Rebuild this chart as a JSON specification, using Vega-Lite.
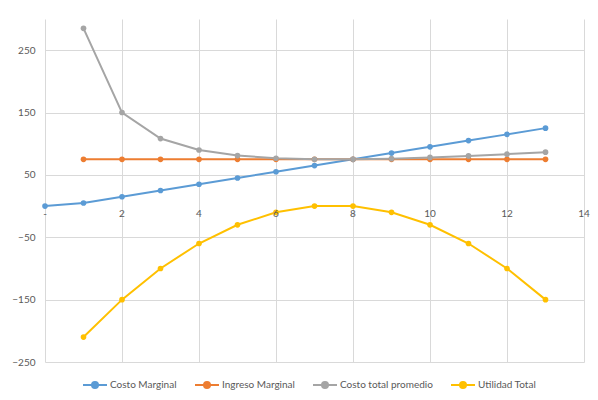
{
  "$schema": "https://vega.github.io/schema/vega-lite/v6.json",
  "width": 539,
  "height": 343,
  "autosize": "none",
  "padding": {"left": 45, "top": 19, "right": 14, "bottom": 38},
  "background": "white",
  "config": {
    "view": {"stroke": null},
    "font": "Lato"
  },
  "datasets": {
    "series": [
      {"x": 0, "serie": "Costo Marginal", "valor": 0},
      {"x": 1, "serie": "Costo Marginal", "valor": 5},
      {"x": 2, "serie": "Costo Marginal", "valor": 15},
      {"x": 3, "serie": "Costo Marginal", "valor": 25},
      {"x": 4, "serie": "Costo Marginal", "valor": 35},
      {"x": 5, "serie": "Costo Marginal", "valor": 45},
      {"x": 6, "serie": "Costo Marginal", "valor": 55},
      {"x": 7, "serie": "Costo Marginal", "valor": 65},
      {"x": 8, "serie": "Costo Marginal", "valor": 75},
      {"x": 9, "serie": "Costo Marginal", "valor": 85},
      {"x": 10, "serie": "Costo Marginal", "valor": 95},
      {"x": 11, "serie": "Costo Marginal", "valor": 105},
      {"x": 12, "serie": "Costo Marginal", "valor": 115},
      {"x": 13, "serie": "Costo Marginal", "valor": 125},
      {"x": 1, "serie": "Ingreso Marginal", "valor": 75},
      {"x": 2, "serie": "Ingreso Marginal", "valor": 75},
      {"x": 3, "serie": "Ingreso Marginal", "valor": 75},
      {"x": 4, "serie": "Ingreso Marginal", "valor": 75},
      {"x": 5, "serie": "Ingreso Marginal", "valor": 75},
      {"x": 6, "serie": "Ingreso Marginal", "valor": 75},
      {"x": 7, "serie": "Ingreso Marginal", "valor": 75},
      {"x": 8, "serie": "Ingreso Marginal", "valor": 75},
      {"x": 9, "serie": "Ingreso Marginal", "valor": 75},
      {"x": 10, "serie": "Ingreso Marginal", "valor": 75},
      {"x": 11, "serie": "Ingreso Marginal", "valor": 75},
      {"x": 12, "serie": "Ingreso Marginal", "valor": 75},
      {"x": 13, "serie": "Ingreso Marginal", "valor": 75},
      {"x": 1, "serie": "Costo total promedio", "valor": 285},
      {"x": 2, "serie": "Costo total promedio", "valor": 150},
      {"x": 3, "serie": "Costo total promedio", "valor": 108.3},
      {"x": 4, "serie": "Costo total promedio", "valor": 90},
      {"x": 5, "serie": "Costo total promedio", "valor": 81},
      {"x": 6, "serie": "Costo total promedio", "valor": 76.7},
      {"x": 7, "serie": "Costo total promedio", "valor": 75},
      {"x": 8, "serie": "Costo total promedio", "valor": 75},
      {"x": 9, "serie": "Costo total promedio", "valor": 76.1},
      {"x": 10, "serie": "Costo total promedio", "valor": 78},
      {"x": 11, "serie": "Costo total promedio", "valor": 80.5},
      {"x": 12, "serie": "Costo total promedio", "valor": 83.3},
      {"x": 13, "serie": "Costo total promedio", "valor": 86.5},
      {"x": 1, "serie": "Utilidad Total", "valor": -210},
      {"x": 2, "serie": "Utilidad Total", "valor": -150},
      {"x": 3, "serie": "Utilidad Total", "valor": -100},
      {"x": 4, "serie": "Utilidad Total", "valor": -60},
      {"x": 5, "serie": "Utilidad Total", "valor": -30},
      {"x": 6, "serie": "Utilidad Total", "valor": -10},
      {"x": 7, "serie": "Utilidad Total", "valor": 0},
      {"x": 8, "serie": "Utilidad Total", "valor": 0},
      {"x": 9, "serie": "Utilidad Total", "valor": -10},
      {"x": 10, "serie": "Utilidad Total", "valor": -30},
      {"x": 11, "serie": "Utilidad Total", "valor": -60},
      {"x": 12, "serie": "Utilidad Total", "valor": -100},
      {"x": 13, "serie": "Utilidad Total", "valor": -150}
    ],
    "etiquetasX": [
      {"x": 0, "etiqueta": "-"},
      {"x": 2, "etiqueta": "2"},
      {"x": 4, "etiqueta": "4"},
      {"x": 6, "etiqueta": "6"},
      {"x": 8, "etiqueta": "8"},
      {"x": 10, "etiqueta": "10"},
      {"x": 12, "etiqueta": "12"},
      {"x": 14, "etiqueta": "14"}
    ]
  },
  "layer": [
    {
      "mark": {"type": "rect", "fill": null, "stroke": "#d9d9d9", "strokeWidth": 1},
      "encoding": {
        "x": {"datum": -1.01, "type": "quantitative", "scale": {"domain": [0, 14], "nice": false}},
        "x2": {"datum": 14.21},
        "y": {"datum": 320.8, "type": "quantitative", "scale": {"domain": [-250, 300], "nice": false}},
        "y2": {"datum": -304.5}
      }
    },
    {
      "data": {"name": "series"},
      "mark": {"type": "line", "strokeWidth": 2, "point": {"filled": true, "size": 32}},
      "encoding": {
        "x": {
          "field": "x",
          "type": "quantitative",
          "scale": {"domain": [0, 14], "nice": false},
          "axis": {
            "values": [0, 2, 4, 6, 8, 10, 12, 14],
            "grid": true,
            "gridColor": "#d9d9d9",
            "labels": false,
            "ticks": false,
            "domain": false,
            "title": null
          }
        },
        "y": {
          "field": "valor",
          "type": "quantitative",
          "scale": {"domain": [-250, 300], "nice": false},
          "axis": {
            "values": [-250, -150, -50, 50, 150, 250],
            "grid": true,
            "gridColor": "#d9d9d9",
            "domain": false,
            "ticks": false,
            "labelPadding": 10,
            "labelFontSize": 10,
            "labelColor": "#595959",
            "title": null
          }
        },
        "color": {
          "field": "serie",
          "type": "nominal",
          "scale": {
            "domain": ["Costo Marginal", "Ingreso Marginal", "Costo total promedio", "Utilidad Total"],
            "range": ["#5B9BD5", "#ED7D31", "#A5A5A5", "#FFC000"]
          },
          "legend": {
            "orient": "none",
            "legendX": 37,
            "legendY": 353,
            "direction": "horizontal",
            "title": null,
            "symbolType": "M-1,0L1,0M-0.25,0A0.25,0.25,0,1,1,0.25,0A0.25,0.25,0,1,1,-0.25,0",
            "symbolSize": 576,
            "symbolStrokeWidth": 2,
            "labelFontSize": 10,
            "labelColor": "#595959",
            "labelOffset": 2,
            "columnPadding": 14,
            "encode": {
              "symbols": {"update": {"fill": {"scale": "color", "field": "value"}}}
            }
          }
        }
      }
    },
    {
      "mark": {"type": "rule", "color": "#bfbfbf", "strokeWidth": 1},
      "encoding": {
        "y": {"datum": 0, "type": "quantitative"}
      }
    },
    {
      "data": {"name": "etiquetasX"},
      "mark": {"type": "text", "baseline": "top", "dy": 3, "fontSize": 10, "color": "#595959"},
      "encoding": {
        "x": {"field": "x", "type": "quantitative"},
        "y": {"datum": 0, "type": "quantitative"},
        "text": {"field": "etiqueta"}
      }
    }
  ]
}
